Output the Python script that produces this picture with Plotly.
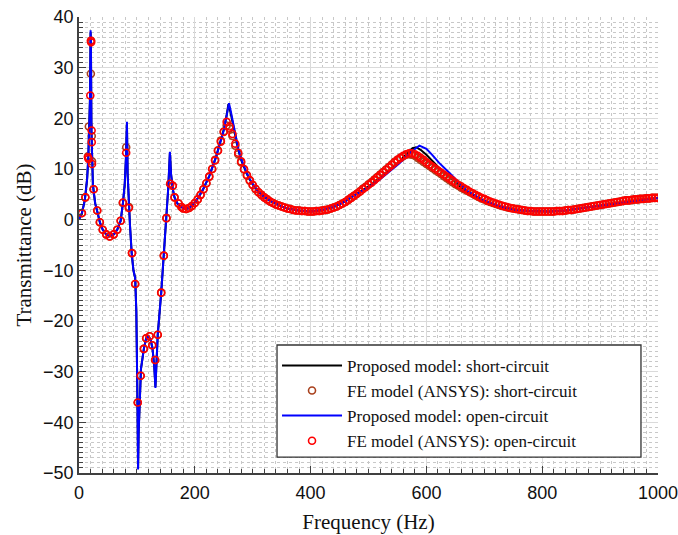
import plotly.graph_objects as go

# ---------------- data ----------------
# Proposed model (open-circuit) - blue line
blue_pts = [(0, 0.0), (5, 1.3), (10, 3.8), (14, 8.0), (16, 12.0), (18, 18.0), (19, 24.0), (20, 37.4),
            (20.6, 35.0), (21.5, 17.5), (22.5, 11.0), (24, 7.0), (26, 5.0), (28, 3.2), (32, 1.4),
            (36, -0.5), (41, -2.0), (47, -2.9), (53, -3.3), (60, -2.9), (66, -2.0), (72, -0.2),
            (76, 3.4), (79, 7.0), (81, 12.0), (82.8, 19.3), (84, 9.0), (86, 2.5), (88, -1.0),
            (91, -6.6), (94, -10.0), (97, -11.5), (99, -18.0), (101, -36.0), (102, -49.3),
            (103, -42.0), (105, -33.0), (107, -29.5), (112, -25.5), (116, -23.4), (120, -23.0),
            (124, -23.8), (127, -25.5), (130, -29.0), (132, -33.2), (134, -28.5), (136, -22.7),
            (142, -14.4), (146.5, -7.1), (151, 0.3), (154, 6.0), (157, 13.4), (159, 9.0),
            (162, 6.0), (165, 4.4), (170, 3.2), (176, 2.5), (184, 2.1), (190, 2.3), (197, 3.0),
            (205, 4.2), (214, 5.9), (225, 8.6), (237, 12.5), (245, 15.5), (250, 17.6), (255, 20.5),
            (259, 23.0), (262, 21.5), (266, 19.0), (270, 16.5), (275, 14.0), (280, 12.0),
            (285, 10.4), (290, 9.1), (295, 8.0), (300, 7.0), (310, 5.5), (320, 4.5), (330, 3.7),
            (340, 3.1), (350, 2.6), (360, 2.2), (380, 1.8), (400, 1.6), (420, 1.9), (440, 2.5),
            (450, 3.0), (460, 3.6), (467, 4.2), (480, 5.0), (500, 6.4), (519, 7.9), (540, 9.8),
            (553, 11.1), (565, 12.4), (576, 13.6), (588, 14.6), (600, 14.0), (610, 12.8),
            (622, 11.2), (640, 9.2), (668, 5.9), (697, 3.9), (725, 2.7), (755, 1.9), (780, 1.7),
            (812, 1.6), (840, 1.8), (870, 2.3), (900, 2.8), (927, 3.3), (960, 3.8), (984, 4.1),
            (1000, 4.3)]

# Proposed model (short-circuit) - black line
black_pts = [(0, 0.0), (5, 1.3), (10, 3.8), (14, 8.0), (16, 12.0), (18, 18.0), (19, 24.0), (20, 37.0),
             (20.6, 34.5), (21.5, 17.5), (22.5, 11.0), (24, 7.0), (26, 5.0), (28, 3.2), (32, 1.4),
             (36, -0.5), (41, -2.0), (47, -2.9), (53, -3.3), (60, -2.9), (66, -2.0), (72, -0.2),
             (76, 3.4), (79, 7.0), (81, 12.0), (82.8, 19.0), (84, 9.0), (86, 2.5), (88, -1.0),
             (91, -6.6), (94, -10.0), (97, -11.5), (99, -18.0), (101, -36.0), (102, -49.0),
             (103, -42.0), (105, -33.0), (107, -29.5), (112, -25.5), (116, -23.4), (120, -23.0),
             (124, -23.8), (127, -25.5), (130, -29.0), (132, -33.0), (134, -28.5), (136, -22.7),
             (142, -14.4), (146.5, -7.1), (151, 0.3), (154, 6.0), (157, 13.2), (159, 9.0),
             (162, 6.0), (165, 4.4), (170, 3.2), (176, 2.5), (184, 2.1), (190, 2.3), (197, 3.0),
             (205, 4.2), (214, 5.9), (225, 8.6), (237, 12.5), (245, 15.6), (250, 17.8), (255, 20.6),
             (258, 22.8), (262, 21.0), (266, 18.6), (270, 16.2), (275, 13.8), (280, 11.8),
             (285, 10.3), (290, 9.0), (295, 7.9), (300, 7.0), (310, 5.5), (320, 4.5), (330, 3.7),
             (340, 3.1), (350, 2.6), (360, 2.2), (380, 1.8), (400, 1.6), (420, 1.9), (440, 2.5),
             (450, 3.0), (460, 3.6), (467, 4.2), (480, 5.1), (500, 6.6), (519, 8.2), (540, 10.1),
             (553, 11.5), (565, 12.9), (576, 14.1), (582, 14.3), (590, 13.8), (600, 12.8),
             (610, 11.6), (622, 10.2), (640, 8.4), (668, 5.5), (697, 3.7), (725, 2.6), (755, 1.9),
             (780, 1.7), (812, 1.6), (840, 1.8), (870, 2.3), (900, 2.8), (927, 3.3), (960, 3.8),
             (984, 4.1), (1000, 4.3)]

# FE model (ANSYS) open-circuit - red circles, low-frequency refined samples
fe_open_low = [(5, 1.3), (11, 4.4), (15.5, 12.3), (16.5, 12.0), (19.5, 24.5), (20.5, 35.3), (21, 35.0),
               (21.8, 17.6), (22, 15.3), (22.5, 11.0), (25.5, 6.0), (31.5, 1.8), (36, -0.5), (41, -2.0),
               (47, -2.9), (53, -3.3), (60, -2.9), (66, -2.0), (72, -0.2), (76, 3.4), (81.5, 13.2),
               (86, 2.3), (91.5, -6.6), (97, -12.7), (101.5, -36.1), (106.5, -30.8), (112, -25.5),
               (116, -23.4), (122, -23.0), (126.5, -24.8), (131.5, -27.7), (136, -22.7), (142, -14.4),
               (146.5, -7.1), (151, 0.3), (157.5, 7.1), (162, 6.7), (165, 4.4), (172, 3.2), (177, 2.5)]
# FE model (ANSYS) open-circuit, 5 Hz samples from 180 Hz to 1000 Hz
fe_freq_hi = list(range(180, 1001, 5))
fe_open_hi = [2.2, 2.1, 2.3, 2.7, 3.3, 4.0, 4.9, 6.0, 7.2, 8.5, 10.0, 11.7, 13.6, 15.4, 17.3, 19.3,
              18.4, 16.9, 15.0, 13.2, 11.5, 10.0, 8.8, 7.8, 6.9, 6.1, 5.4, 4.9, 4.4, 4.0, 3.6, 3.3,
              3.0, 2.8, 2.6, 2.4, 2.2, 2.1, 1.9, 1.8, 1.8, 1.7, 1.7, 1.6, 1.6, 1.6, 1.7, 1.7, 1.8,
              1.9, 2.0, 2.2, 2.4, 2.6, 2.9, 3.2, 3.5, 3.9, 4.3, 4.7, 5.1, 5.5, 6.0, 6.4, 6.9, 7.3,
              7.8, 8.3, 8.8, 9.3, 9.8, 10.3, 10.8, 11.3, 11.8, 12.2, 12.6, 12.9, 13.1, 13.1, 12.9,
              12.6, 12.2, 11.8, 11.3, 10.9, 10.5, 10.1, 9.7, 9.3, 8.9, 8.5, 8.1, 7.7, 7.3, 6.9, 6.6,
              6.2, 5.9, 5.5, 5.2, 4.9, 4.6, 4.3, 4.1, 3.8, 3.6, 3.4, 3.2, 3.0, 2.8, 2.6, 2.5, 2.3,
              2.2, 2.1, 2.0, 1.9, 1.8, 1.7, 1.7, 1.6, 1.6, 1.6, 1.6, 1.6, 1.6, 1.6, 1.6, 1.7, 1.7,
              1.7, 1.8, 1.9, 1.9, 2.0, 2.1, 2.2, 2.3, 2.4, 2.5, 2.6, 2.7, 2.8, 2.9, 3.0, 3.1, 3.2,
              3.3, 3.4, 3.5, 3.6, 3.7, 3.8, 3.8, 3.9, 4.0, 4.0, 4.1, 4.1, 4.2, 4.2, 4.3, 4.3, 4.3]

# FE model (ANSYS) short-circuit - brown circles
fe_short_low = [(5, 1.3), (11, 4.4), (15.5, 12.5), (17, 18.4), (20.5, 28.8), (21, 35.3), (22, 16.5),
                (22.5, 11.5), (25, 6.0), (31.5, 1.8), (36, -0.5), (41, -2.0), (47, -2.9), (53, -3.3),
                (60, -2.9), (66, -2.0), (72, -0.2), (75.5, 3.3), (81.5, 14.3), (86.5, 2.5),
                (91.5, -6.6), (97, -12.7), (101.5, -36.1), (106.5, -30.8), (112, -25.5), (116, -23.4),
                (122, -23.0), (126.5, -24.8), (131.5, -27.7), (136, -22.7), (142, -14.4),
                (146.5, -7.1), (151, 0.3), (157.5, 7.1), (162, 6.7), (165, 4.4), (172, 3.2), (177, 2.5)]
fe_short_hi = [2.2, 2.1, 2.3, 2.7, 3.3, 4.0, 4.9, 6.0, 7.2, 8.5, 10.0, 11.8, 13.7, 15.6, 17.4, 18.6,
               18.0, 16.5, 14.6, 12.9, 11.3, 9.9, 8.7, 7.7, 6.8, 6.0, 5.4, 4.9, 4.4, 4.0, 3.6, 3.3,
               3.0, 2.8, 2.6, 2.4, 2.2, 2.1, 1.9, 1.8, 1.8, 1.7, 1.7, 1.6, 1.6, 1.6, 1.7, 1.7, 1.8,
               1.9, 2.0, 2.2, 2.4, 2.6, 2.9, 3.2, 3.5, 3.9, 4.3, 4.7, 5.1, 5.6, 6.1, 6.5, 7.0, 7.4,
               7.9, 8.4, 8.9, 9.4, 9.9, 10.4, 10.9, 11.4, 11.8, 12.2, 12.5, 12.8, 12.9, 12.8, 12.6,
               12.2, 11.8, 11.4, 11.0, 10.6, 10.2, 9.8, 9.4, 9.0, 8.6, 8.2, 7.8, 7.4, 7.0, 6.7, 6.3,
               6.0, 5.7, 5.4, 5.1, 4.8, 4.5, 4.2, 4.0, 3.7, 3.5, 3.3, 3.1, 2.9, 2.7, 2.6, 2.4, 2.3,
               2.2, 2.1, 2.0, 1.9, 1.8, 1.7, 1.7, 1.6, 1.6, 1.6, 1.6, 1.6, 1.6, 1.6, 1.6, 1.7, 1.7,
               1.7, 1.8, 1.9, 1.9, 2.0, 2.1, 2.2, 2.3, 2.4, 2.5, 2.6, 2.7, 2.8, 2.9, 3.0, 3.1, 3.2,
               3.3, 3.4, 3.5, 3.6, 3.7, 3.8, 3.8, 3.9, 4.0, 4.0, 4.1, 4.1, 4.2, 4.2, 4.3, 4.3, 4.3]

names = ["Proposed model: short-circuit", "FE model (ANSYS): short-circuit",
         "Proposed model: open-circuit", "FE model (ANSYS): open-circuit"]
x_ticks = [0, 200, 400, 600, 800, 1000]
y_ticks = [-50, -40, -30, -20, -10, 0, 10, 20, 30, 40]

# ---------------- figure ----------------
def unzip(pts):
    return [p[0] for p in pts], [p[1] for p in pts]

bx, by = unzip(blue_pts)
kx, ky = unzip(black_pts)
ox, oy = unzip(fe_open_low)
sx, sy = unzip(fe_short_low)
ox += fe_freq_hi
oy += fe_open_hi
sx += fe_freq_hi
sy += fe_short_hi

SERIF = "Liberation Serif, Times New Roman, serif"
SANS = "Liberation Sans, Arial, sans-serif"

fig = go.Figure()
fig.add_trace(go.Scatter(x=kx, y=ky, mode="lines", name=names[0],
                         line=dict(color="black", width=2)))
fig.add_trace(go.Scatter(x=sx, y=sy, mode="markers", name=names[1],
                         marker=dict(symbol="circle-open", size=7, color="#A8401C",
                                     line=dict(width=1.6))))
fig.add_trace(go.Scatter(x=bx, y=by, mode="lines", name=names[2],
                         line=dict(color="#0000FF", width=2)))
fig.add_trace(go.Scatter(x=ox, y=oy, mode="markers", name=names[3],
                         marker=dict(symbol="circle-open", size=7, color="#FF0000",
                                     line=dict(width=1.6))))

axis_common = dict(
    showline=True, linecolor="#404040", linewidth=1.5,
    ticks="inside", ticklen=7, tickcolor="#404040", tickwidth=1,
    showgrid=True, gridcolor="#DADADA", gridwidth=1,
    zeroline=False, mirror=False, automargin=False,
    ticklabeloverflow="allow",
    tickfont=dict(family=SANS, size=18, color="#111111"),
)

fig.update_xaxes(range=[0, 1000], tickvals=x_ticks, ticklabelstandoff=3,
                 title=dict(text="Frequency (Hz)", font=dict(family=SERIF, size=21, color="#111"), standoff=12),
                 minor=dict(dtick=20, ticks="inside", ticklen=4, tickcolor="#404040",
                            showgrid=True, gridcolor="#C8C8C8", griddash="dot", gridwidth=1),
                 **axis_common)
fig.update_yaxes(range=[-50, 40], tickvals=y_ticks,
                 title=dict(text="Transmittance (dB)", font=dict(family=SERIF, size=21, color="#111"), standoff=6),
                 minor=dict(dtick=1, ticks="inside", ticklen=4, tickcolor="#404040",
                            showgrid=True, gridcolor="#C8C8C8", griddash="dot", gridwidth=1),
                 **axis_common)

# legend frame (wider than the entries, as in the reference)
fig.add_shape(type="rect", xref="paper", yref="paper", x0=0.342, x1=0.9706, y0=0.035, y1=0.2807,
              fillcolor="white", line=dict(color="#333333", width=1.3), layer="above")

fig.update_layout(
    width=678, height=535,
    margin=dict(l=79, r=20, t=17, b=62),
    plot_bgcolor="white", paper_bgcolor="white",
    legend=dict(x=0.342, y=0.2745, xanchor="left", yanchor="top",
                bgcolor="rgba(0,0,0,0)", borderwidth=0,
                font=dict(family=SERIF, size=17, color="#111"),
                itemwidth=60, tracegroupgap=0),
    showlegend=True,
)

fig.write_html("out.html")
